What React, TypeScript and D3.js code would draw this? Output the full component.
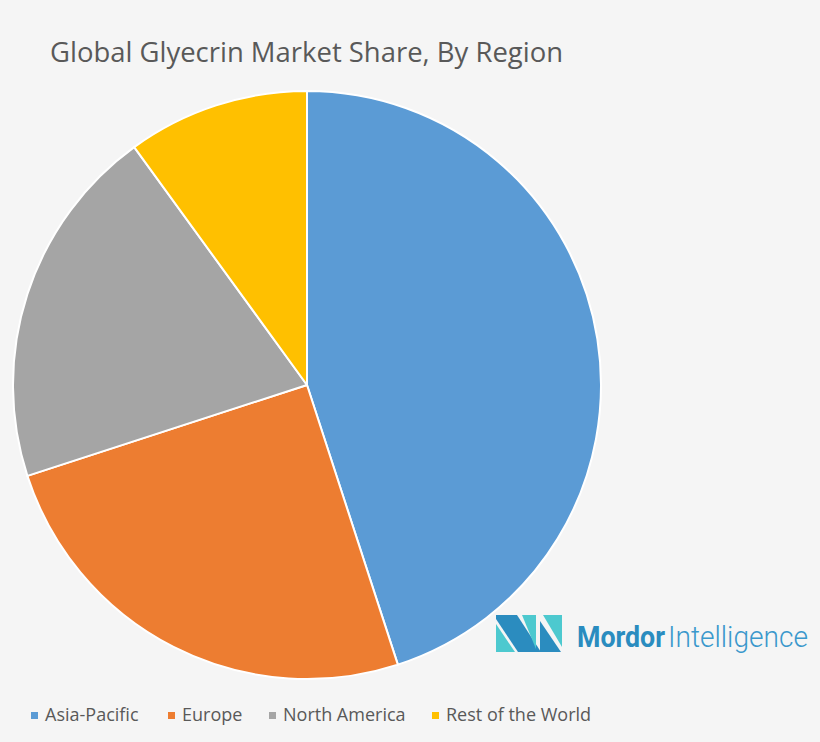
import React from "react";
import * as d3 from "d3";

const categories = ["Asia-Pacific", "Europe", "North America", "Rest of the World"];
const shares = [45, 25, 20, 10];
const colors = ["#5B9BD5", "#ED7D31", "#A5A5A5", "#FFC000"];
const titleText = "Global Glyecrin Market Share, By Region";

const W = 820;
const H = 742;
const CX = 307;
const CY = 385;
const R = 294;
const legendX = [31, 168, 269, 432];

export default function App() {
  const pie = d3.pie<number>().sort(null).value((d) => d).startAngle(0).endAngle(2 * Math.PI);
  const arcs = pie(shares);
  const arc = d3.arc<d3.PieArcDatum<number>>().innerRadius(0).outerRadius(R);
  const font = "'Open Sans', 'DejaVu Sans', sans-serif";
  return (
    <svg width={W} height={H} style={{ position: "absolute", left: 0, top: 0, background: "#f5f5f5" }}>
      <rect x={0} y={0} width={W} height={H} fill="#f5f5f5" />
      <text x={50} y={62} fontFamily={font} fontSize={27} fill="#595959" textLength={513} lengthAdjust="spacingAndGlyphs">
        {titleText}
      </text>
      <g transform={`translate(${CX},${CY})`}>
        {arcs.map((a, i) => (
          <path key={i} d={arc(a) || ""} fill={colors[i]} stroke="#ffffff" strokeWidth={2} strokeLinejoin="round" />
        ))}
      </g>
      {/* logo */}
      <g>
        <polygon points="496,624 515,652 496,652" fill="#4dc9cf" />
        <polygon points="496,615 517,615 541,652 518,652 496,619" fill="#2b8cbf" />
        <polygon points="522,615 536,615 536,649" fill="#4dc9cf" />
        <polygon points="540,621 540,652 561,652" fill="#2b8cbf" />
        <polygon points="543,615 562,615 562,647" fill="#4dc9cf" />
        <text x={577} y={647} fontFamily="'Roboto', sans-serif" fontWeight={700} fontSize={30} fill="#2a8cbf" textLength={88} lengthAdjust="spacingAndGlyphs">
          Mordor
        </text>
        <text x={668} y={647} fontFamily="'Roboto', sans-serif" fontWeight={300} fontSize={30} fill="#3a98cc" textLength={140} lengthAdjust="spacingAndGlyphs">
          Intelligence
        </text>
      </g>
      {/* legend */}
      {categories.map((c, i) => (
        <g key={c}>
          <rect x={legendX[i]} y={712} width={7} height={7} fill={colors[i]} />
          <text x={legendX[i] + 14} y={721} fontFamily={font} fontSize={18} fill="#595959">
            {c}
          </text>
        </g>
      ))}
    </svg>
  );
}
